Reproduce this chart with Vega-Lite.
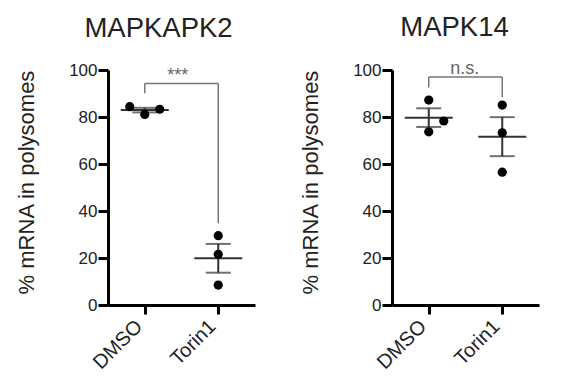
{
  "$schema": "https://vega.github.io/schema/vega-lite/v6.json",
  "background": "white",
  "padding": {"left": 15, "top": 13, "right": 5, "bottom": 5},
  "spacing": 44,
  "datasets": {
    "points": [
      {"panel": "MAPKAPK2", "group": "DMSO", "value": 84.4, "jitter": -1},
      {"panel": "MAPKAPK2", "group": "DMSO", "value": 81.1, "jitter": 0},
      {"panel": "MAPKAPK2", "group": "DMSO", "value": 83.3, "jitter": 1},
      {"panel": "MAPKAPK2", "group": "Torin1", "value": 29.5, "jitter": 0},
      {"panel": "MAPKAPK2", "group": "Torin1", "value": 21.6, "jitter": 0},
      {"panel": "MAPKAPK2", "group": "Torin1", "value": 8.5, "jitter": 0},
      {"panel": "MAPK14", "group": "DMSO", "value": 87.2, "jitter": 0},
      {"panel": "MAPK14", "group": "DMSO", "value": 78.3, "jitter": 1},
      {"panel": "MAPK14", "group": "DMSO", "value": 73.7, "jitter": 0},
      {"panel": "MAPK14", "group": "Torin1", "value": 85.1, "jitter": 0},
      {"panel": "MAPK14", "group": "Torin1", "value": 73.3, "jitter": 0},
      {"panel": "MAPK14", "group": "Torin1", "value": 56.5, "jitter": 0}
    ],
    "legs": [
      {"panel": "MAPKAPK2", "group": "DMSO", "top": 94.3, "bottom": 90.1},
      {"panel": "MAPKAPK2", "group": "Torin1", "top": 94.3, "bottom": 34.8},
      {"panel": "MAPK14", "group": "DMSO", "top": 97, "bottom": 92.6},
      {"panel": "MAPK14", "group": "Torin1", "top": 97, "bottom": 88.4}
    ],
    "bars": [
      {"panel": "MAPKAPK2", "from": "DMSO", "to": "Torin1", "y": 94.3, "label": "***"},
      {"panel": "MAPK14", "from": "DMSO", "to": "Torin1", "y": 97, "label": "n.s."}
    ]
  },
  "hconcat": [
    {
      "width": 147,
      "height": 235,
      "title": {"text": "MAPKAPK2", "dx": -23},
      "layer": [
        {
          "data": {"name": "bars"},
          "transform": [{"filter": "datum.panel === 'MAPKAPK2'"}],
          "mark": {"type": "rule", "color": "#777", "strokeWidth": 1.5},
          "encoding": {
            "x": {"field": "from", "type": "nominal", "scale": {"type": "point", "padding": 0.5, "domain": ["DMSO", "Torin1"]}, "axis": {"title": null, "labelAngle": -45, "labelAlign": "right", "labelBaseline": "middle", "labelFontSize": 20, "labelPadding": 9, "labelOffset": -6, "domainWidth": 3, "tickWidth": 3, "tickSize": 9}},
            "x2": {"field": "to"},
            "y": {"field": "y", "type": "quantitative", "scale": {"domain": [0, 100]}, "axis": {"values": [0, 20, 40, 60, 80, 100], "title": "% mRNA in polysomes", "titleY": 112, "domainWidth": 3, "tickWidth": 3, "tickSize": 10}}
          }
        },
        {
          "data": {"name": "bars"},
          "transform": [{"filter": "datum.panel === 'MAPKAPK2'"}],
          "mark": {"type": "text", "color": "#666", "fontSize": 18, "font": "Liberation Sans", "align": "center", "baseline": "alphabetic", "dx": 33, "dy": -2},
          "encoding": {
            "x": {"field": "from", "type": "nominal"},
            "y": {"field": "y", "type": "quantitative", "title": "% mRNA in polysomes"},
            "text": {"field": "label"}
          }
        },
        {
          "data": {"name": "legs"},
          "transform": [{"filter": "datum.panel === 'MAPKAPK2'"}],
          "mark": {"type": "rule", "color": "#777", "strokeWidth": 1.5},
          "encoding": {
            "x": {"field": "group", "type": "nominal"},
            "y": {"field": "top", "type": "quantitative", "title": "% mRNA in polysomes"},
            "y2": {"field": "bottom"}
          }
        },
        {
          "data": {"name": "points"},
          "transform": [{"filter": "datum.panel === 'MAPKAPK2'"}],
          "mark": {"type": "errorbar", "extent": "stderr", "ticks": {"size": 25, "thickness": 2, "color": "#333"}, "rule": {"strokeWidth": 2, "color": "#333"}},
          "encoding": {
            "x": {"field": "group", "type": "nominal"},
            "y": {"field": "value", "type": "quantitative", "title": "% mRNA in polysomes"}
          }
        },
        {
          "data": {"name": "points"},
          "transform": [{"filter": "datum.panel === 'MAPKAPK2'"}],
          "mark": {"type": "tick", "size": 48, "thickness": 2, "color": "#333", "orient": "horizontal"},
          "encoding": {
            "x": {"field": "group", "type": "nominal"},
            "y": {"field": "value", "aggregate": "mean", "type": "quantitative", "title": "% mRNA in polysomes"}
          }
        },
        {
          "data": {"name": "points"},
          "transform": [{"filter": "datum.panel === 'MAPKAPK2'"}],
          "mark": {"type": "circle", "size": 85, "color": "black", "opacity": 1},
          "encoding": {
            "x": {"field": "group", "type": "nominal"},
            "xOffset": {"field": "jitter", "type": "quantitative", "scale": {"domain": [-1, 1], "range": [-15, 15]}},
            "y": {"field": "value", "type": "quantitative", "title": "% mRNA in polysomes"}
          }
        }
      ]
    },
    {
      "width": 147,
      "height": 235,
      "title": {"text": "MAPK14", "dx": -11},
      "layer": [
        {
          "data": {"name": "bars"},
          "transform": [{"filter": "datum.panel === 'MAPK14'"}],
          "mark": {"type": "rule", "color": "#777", "strokeWidth": 1.5},
          "encoding": {
            "x": {"field": "from", "type": "nominal", "scale": {"type": "point", "padding": 0.5, "domain": ["DMSO", "Torin1"]}, "axis": {"title": null, "labelAngle": -45, "labelAlign": "right", "labelBaseline": "middle", "labelFontSize": 20, "labelPadding": 9, "labelOffset": -6, "domainWidth": 3, "tickWidth": 3, "tickSize": 9}},
            "x2": {"field": "to"},
            "y": {"field": "y", "type": "quantitative", "scale": {"domain": [0, 100]}, "axis": {"values": [0, 20, 40, 60, 80, 100], "title": "% mRNA in polysomes", "titleY": 112, "domainWidth": 3, "tickWidth": 3, "tickSize": 10}}
          }
        },
        {
          "data": {"name": "bars"},
          "transform": [{"filter": "datum.panel === 'MAPK14'"}],
          "mark": {"type": "text", "color": "#666", "fontSize": 18, "font": "Liberation Sans", "align": "center", "baseline": "alphabetic", "dx": 36, "dy": -3},
          "encoding": {
            "x": {"field": "from", "type": "nominal"},
            "y": {"field": "y", "type": "quantitative", "title": "% mRNA in polysomes"},
            "text": {"field": "label"}
          }
        },
        {
          "data": {"name": "legs"},
          "transform": [{"filter": "datum.panel === 'MAPK14'"}],
          "mark": {"type": "rule", "color": "#777", "strokeWidth": 1.5},
          "encoding": {
            "x": {"field": "group", "type": "nominal"},
            "y": {"field": "top", "type": "quantitative", "title": "% mRNA in polysomes"},
            "y2": {"field": "bottom"}
          }
        },
        {
          "data": {"name": "points"},
          "transform": [{"filter": "datum.panel === 'MAPK14'"}],
          "mark": {"type": "errorbar", "extent": "stderr", "ticks": {"size": 25, "thickness": 2, "color": "#333"}, "rule": {"strokeWidth": 2, "color": "#333"}},
          "encoding": {
            "x": {"field": "group", "type": "nominal"},
            "y": {"field": "value", "type": "quantitative", "title": "% mRNA in polysomes"}
          }
        },
        {
          "data": {"name": "points"},
          "transform": [{"filter": "datum.panel === 'MAPK14'"}],
          "mark": {"type": "tick", "size": 48, "thickness": 2, "color": "#333", "orient": "horizontal"},
          "encoding": {
            "x": {"field": "group", "type": "nominal"},
            "y": {"field": "value", "aggregate": "mean", "type": "quantitative", "title": "% mRNA in polysomes"}
          }
        },
        {
          "data": {"name": "points"},
          "transform": [{"filter": "datum.panel === 'MAPK14'"}],
          "mark": {"type": "circle", "size": 85, "color": "black", "opacity": 1},
          "encoding": {
            "x": {"field": "group", "type": "nominal"},
            "xOffset": {"field": "jitter", "type": "quantitative", "scale": {"domain": [-1, 1], "range": [-16, 16]}},
            "y": {"field": "value", "type": "quantitative", "title": "% mRNA in polysomes"}
          }
        }
      ]
    }
  ],
  "config": {
    "view": {"stroke": null},
    "font": "Liberation Sans",
    "title": {"font": "Liberation Sans", "fontSize": 27.5, "fontWeight": "normal", "color": "#222", "anchor": "middle", "offset": 19},
    "axis": {
      "grid": false,
      "domainColor": "black",
      "domainWidth": 3,
      "tickColor": "black",
      "tickWidth": 3,
      "tickSize": 10,
      "labelFont": "Liberation Sans",
      "labelFontSize": 17,
      "labelColor": "#222",
      "labelPadding": 1,
      "titleFont": "Liberation Sans",
      "titleFontSize": 22,
      "titleFontWeight": "normal",
      "titleColor": "#222",
      "titlePadding": 30
    }
  }
}
